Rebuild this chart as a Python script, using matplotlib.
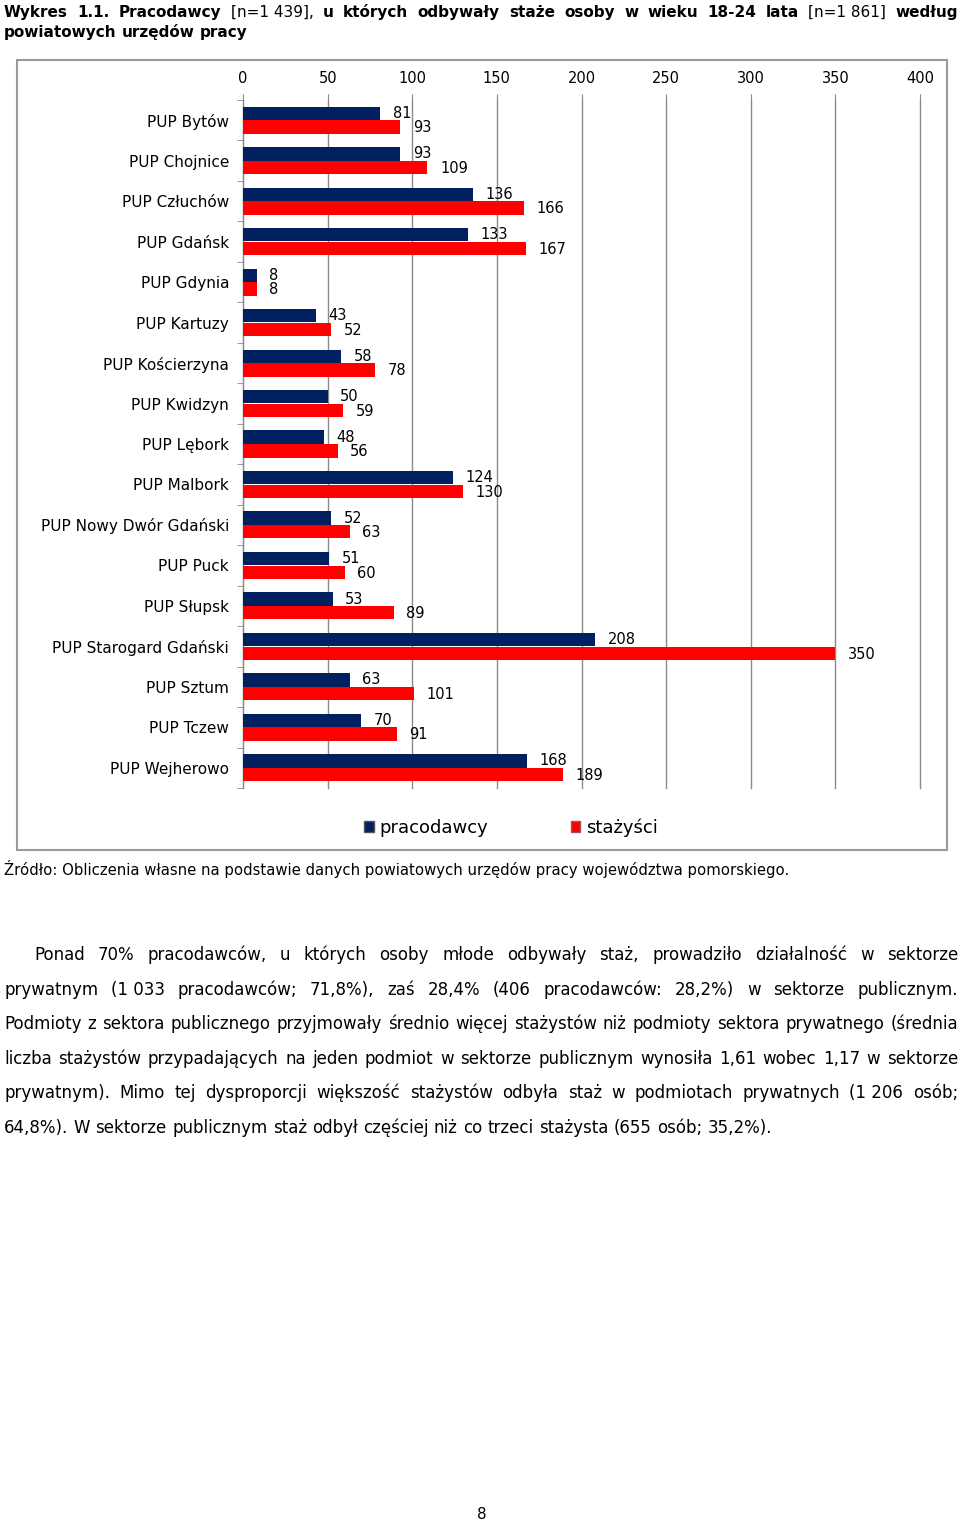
import matplotlib
matplotlib.use('Agg')
import matplotlib.pyplot as plt
from matplotlib.patches import Patch, Rectangle
import numpy as np

W, H = 960, 1523

urzedy = ['PUP Bytów', 'PUP Chojnice', 'PUP Człuchów', 'PUP Gdańsk', 'PUP Gdynia',
          'PUP Kartuzy', 'PUP Kościerzyna', 'PUP Kwidzyn', 'PUP Lębork', 'PUP Malbork',
          'PUP Nowy Dwór Gdański', 'PUP Puck', 'PUP Słupsk', 'PUP Starogard Gdański',
          'PUP Sztum', 'PUP Tczew', 'PUP Wejherowo']
pracodawcy = [81, 93, 136, 133, 8, 43, 58, 50, 48, 124, 52, 51, 53, 208, 63, 70, 168]
stazysci = [93, 109, 166, 167, 8, 52, 78, 59, 56, 130, 63, 60, 89, 350, 101, 91, 189]
x_ticks = [0, 50, 100, 150, 200, 250, 300, 350, 400]
serie = ['pracodawcy', 'stażyści']

title_1 = [('Wykres', 'bold'), ('1.1.', 'bold'), ('Pracodawcy', 'bold'),
           ('[n=1\u00a0439],', 'normal'), ('u', 'bold'), ('których', 'bold'),
           ('odbywały', 'bold'), ('staże', 'bold'), ('osoby', 'bold'), ('w', 'bold'),
           ('wieku', 'bold'), ('18-24', 'bold'), ('lata', 'bold'),
           ('[n=1\u00a0861]', 'normal'), ('według', 'bold')]
title_2 = [('powiatowych', 'bold'), ('urzędów', 'bold'), ('pracy', 'bold')]

zrodlo = 'Źródło: Obliczenia własne na podstawie danych powiatowych urzędów pracy województwa pomorskiego.'

akapit = [
    'Ponad 70% pracodawców, u których osoby młode odbywały staż, prowadziło działalność w sektorze',
    'prywatnym (1\u00a0033 pracodawców; 71,8%), zaś 28,4% (406 pracodawców: 28,2%) w sektorze publicznym.',
    'Podmioty z sektora publicznego przyjmowały średnio więcej stażystów niż podmioty sektora prywatnego (średnia',
    'liczba stażystów przypadających na jeden podmiot w sektorze publicznym wynosiła 1,61 wobec 1,17 w sektorze',
    'prywatnym). Mimo tej dysproporcji większość stażystów odbyła staż w podmiotach prywatnych (1\u00a0206 osób;',
    '64,8%). W sektorze publicznym staż odbył częściej niż co trzeci stażysta (655 osób; 35,2%).',
]

navy = '#002060'
red = '#ff0000'
grey = '#8a8a8a'

fig = plt.figure(figsize=(W / 100, H / 100), dpi=100)
renderer = fig.canvas.get_renderer()


def put_line(words, base_y, x0, x1, size, justify=True):
    # place words one by one so the line can be stretched to both margins
    texts = []
    widths = []
    for w, weight in words:
        t = fig.text(0, 1 - base_y / H, w, fontsize=size, fontweight=weight,
                     va='baseline', ha='left')
        texts.append(t)
        widths.append(t.get_window_extent(renderer).width)
    gap = 0.32 * size * 100 / 72
    if justify and len(words) > 1:
        gap = max((x1 - x0 - sum(widths)) / (len(words) - 1), 2)
    x = x0
    for t, wd in zip(texts, widths):
        t.set_x(x / W)
        x += wd + gap


put_line(title_1, 17, 4, 958, 11)
put_line(title_2, 37, 4, 958, 11, justify=False)

# chart frame
fig.patches.append(Rectangle((17 / W, 1 - 850 / H), 930 / W, 790 / H,
                             transform=fig.transFigure, fill=False,
                             edgecolor='#9a9a9a', lw=1.5))

ax = fig.add_axes([243 / W, 1 - 788 / H, 677 / W, 688 / H])
y = np.arange(len(urzedy))
h = 0.33
ax.barh(y - 0.17, pracodawcy, height=h, color=navy, zorder=3)
ax.barh(y + 0.17, stazysci, height=h, color=red, zorder=3)

for i, v in enumerate(pracodawcy):
    ax.annotate(str(v), (v, i - 0.17), xytext=(9, 0), textcoords='offset points',
                va='center', ha='left', fontsize=10.5)
for i, v in enumerate(stazysci):
    ax.annotate(str(v), (v, i + 0.19), xytext=(9, 0), textcoords='offset points',
                va='center', ha='left', fontsize=10.5)

ax.set_xlim(0, 400)
ax.set_ylim(len(urzedy) - 0.5, -0.5)
ax.xaxis.tick_top()
ax.set_xticks(x_ticks)
ax.grid(axis='x', color=grey, lw=1)
for gl in ax.get_xgridlines():
    gl.set_clip_on(False)
ax.set_axisbelow(True)
for s in ['top', 'right', 'bottom']:
    ax.spines[s].set_visible(False)
ax.spines['left'].set_color(grey)
ax.set_yticks(y, urzedy)
ax.set_yticks(np.arange(len(urzedy) + 1) - 0.5, minor=True)
ax.tick_params(axis='y', which='major', length=0, pad=10, labelsize=11)
ax.tick_params(axis='y', which='minor', length=4, color=grey)
ax.tick_params(axis='x', length=4, color=grey, labelsize=10.5, pad=6)

handles = [Patch(facecolor=navy, edgecolor='#555555'), Patch(facecolor=red, edgecolor='#aa5555')]
fig.legend(handles, serie, loc='center', bbox_to_anchor=(511 / W, 1 - 828 / H),
           ncol=2, frameon=False, fontsize=13, handlelength=0.55, handleheight=0.55,
           handletextpad=0.3, columnspacing=4.55)

fig.text(4 / W, 1 - 875 / H, zrodlo, fontsize=10.7, va='baseline', ha='left')

baselines = [960, 995, 1029, 1064, 1098, 1133]
for k, line in enumerate(akapit):
    words = [(w, 'normal') for w in line.split(' ')]
    x0 = 34 if k == 0 else 4
    put_line(words, baselines[k], x0, 958, 12, justify=(k < len(akapit) - 1))

fig.text(482 / W, 1 - 1519 / H, '8', fontsize=11, va='baseline', ha='center')

fig.savefig('out.png', dpi=100)
